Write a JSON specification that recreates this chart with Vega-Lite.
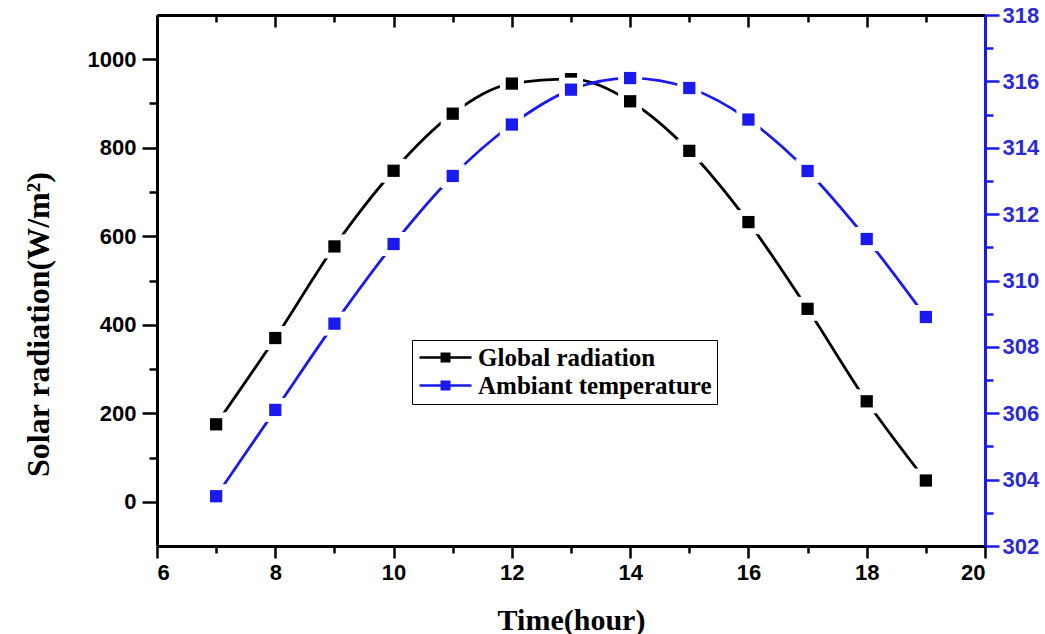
{
  "$schema": "https://vega.github.io/schema/vega-lite/v6.json",
  "width": 828,
  "height": 531,
  "autosize": {"type": "none"},
  "padding": {"left": 157, "top": 15, "right": 60, "bottom": 88},
  "background": "white",
  "config": {
    "view": {"stroke": null},
    "axis": {
      "grid": false,
      "labelFont": "Liberation Sans",
      "labelFontWeight": "bold",
      "labelFontSize": 22,
      "labelColor": "black",
      "titleFont": "Liberation Serif",
      "titleFontWeight": "bold",
      "titleColor": "black",
      "domainColor": "black",
      "tickColor": "black",
      "domainWidth": 3,
      "tickWidth": 2.5
    }
  },
  "data": {
    "values": [
      {"hour": 7, "series": "Global radiation", "value": 175},
      {"hour": 8, "series": "Global radiation", "value": 370},
      {"hour": 9, "series": "Global radiation", "value": 577},
      {"hour": 10, "series": "Global radiation", "value": 748},
      {"hour": 11, "series": "Global radiation", "value": 877},
      {"hour": 12, "series": "Global radiation", "value": 945},
      {"hour": 13, "series": "Global radiation", "value": 955},
      {"hour": 14, "series": "Global radiation", "value": 905},
      {"hour": 15, "series": "Global radiation", "value": 793},
      {"hour": 16, "series": "Global radiation", "value": 632},
      {"hour": 17, "series": "Global radiation", "value": 436},
      {"hour": 18, "series": "Global radiation", "value": 227},
      {"hour": 19, "series": "Global radiation", "value": 48},
      {"hour": 7, "series": "Ambiant temperature", "value": 303.5},
      {"hour": 8, "series": "Ambiant temperature", "value": 306.1},
      {"hour": 9, "series": "Ambiant temperature", "value": 308.7},
      {"hour": 10, "series": "Ambiant temperature", "value": 311.1},
      {"hour": 11, "series": "Ambiant temperature", "value": 313.15},
      {"hour": 12, "series": "Ambiant temperature", "value": 314.7},
      {"hour": 13, "series": "Ambiant temperature", "value": 315.75},
      {"hour": 14, "series": "Ambiant temperature", "value": 316.1},
      {"hour": 15, "series": "Ambiant temperature", "value": 315.8},
      {"hour": 16, "series": "Ambiant temperature", "value": 314.85},
      {"hour": 17, "series": "Ambiant temperature", "value": 313.3},
      {"hour": 18, "series": "Ambiant temperature", "value": 311.25},
      {"hour": 19, "series": "Ambiant temperature", "value": 308.9}
    ]
  },
  "layer": [
    {
      "transform": [{"filter": {"field": "series", "equal": "Global radiation"}}],
      "encoding": {
        "x": {
          "field": "hour",
          "type": "quantitative",
          "scale": {"domain": [6, 20], "nice": false, "zero": false},
          "axis": {
            "orient": "bottom",
            "values": [6, 7, 8, 9, 10, 11, 12, 13, 14, 15, 16, 17, 18, 19, 20],
            "labelExpr": "datum.value % 2 == 0 ? datum.label : ''",
            "format": "d",
            "tickSize": {"condition": {"test": "datum.value % 2 == 0", "value": 12}, "value": 7},
            "labelPadding": 4,
            "title": "Time(hour)",
            "titleFontSize": 30,
            "titlePadding": 22
          }
        },
        "y": {
          "field": "value",
          "type": "quantitative",
          "scale": {"domain": [-100, 1100], "nice": false, "zero": false},
          "axis": {
            "orient": "left",
            "values": [0, 100, 200, 300, 400, 500, 600, 700, 800, 900, 1000],
            "labelExpr": "datum.value % 200 == 0 ? datum.label : ''",
            "format": "d",
            "tickSize": {"condition": {"test": "datum.value % 200 == 0", "value": 15}, "value": 8},
            "labelPadding": 6,
            "title": "Solar radiation(W/m²)",
            "titleFontSize": 32,
            "titleY": 309,
            "titleX": -102
          }
        }
      },
      "layer": [
        {"mark": {"type": "line", "color": "black", "strokeWidth": 2.8, "interpolate": "monotone"}},
        {"mark": {"type": "point", "shape": "square", "filled": true, "fill": "white", "stroke": "white", "strokeWidth": 0, "size": 576, "opacity": 1}},
        {
          "mark": {"type": "point", "shape": "square", "filled": true, "size": 150, "opacity": 1},
          "encoding": {
            "color": {
              "field": "series",
              "type": "nominal",
              "scale": {"domain": ["Global radiation", "Ambiant temperature"], "range": ["black", "#1a1aee"]},
              "legend": {
                "title": null,
                "orient": "none",
                "legendX": 255,
                "legendY": 325,
                "symbolType": "M-2,-0.24L8.4,-0.24L8.4,0.24L-2,0.24Z M2.2,-1L4.2,-1L4.2,1L2.2,1Z",
                "symbolSize": 100,
                "symbolStrokeWidth": 0,
                "symbolOpacity": 1,
                "labelFont": "Liberation Serif",
                "labelFontWeight": "bold",
                "labelFontSize": 25,
                "labelColor": "black",
                "labelOffset": 36,
                "labelLimit": 400,
                "strokeColor": "black",
                "fillColor": "white",
                "padding": 5,
                "rowPadding": 2
              }
            }
          }
        }
      ]
    },
    {
      "transform": [{"filter": {"field": "series", "equal": "Ambiant temperature"}}],
      "encoding": {
        "x": {
          "field": "hour",
          "type": "quantitative",
          "axis": {
            "orient": "top",
            "values": [6, 7, 8, 9, 10, 11, 12, 13, 14, 15, 16, 17, 18, 19, 20],
            "labels": false,
            "tickSize": {"condition": {"test": "datum.value % 2 == 0", "value": -12}, "value": -7},
            "title": null
          }
        },
        "y": {
          "field": "value",
          "type": "quantitative",
          "scale": {"domain": [302, 318], "nice": false, "zero": false},
          "axis": {
            "orient": "right",
            "values": [302, 303, 304, 305, 306, 307, 308, 309, 310, 311, 312, 313, 314, 315, 316, 317, 318],
            "labelExpr": "datum.value % 2 == 0 ? datum.label : ''",
            "format": "d",
            "tickSize": {"condition": {"test": "datum.value % 2 == 0", "value": 14}, "value": 8},
            "labelPadding": 3,
            "domainColor": "#1a1aee",
            "tickColor": "#1a1aee",
            "labelColor": "#2b2bd6",
            "title": null
          }
        }
      },
      "layer": [
        {"mark": {"type": "line", "color": "#1a1aee", "strokeWidth": 2.8, "interpolate": "monotone"}},
        {"mark": {"type": "point", "shape": "square", "filled": true, "fill": "white", "stroke": "white", "strokeWidth": 0, "size": 576, "opacity": 1}},
        {
          "mark": {"type": "point", "shape": "square", "filled": true, "size": 150, "opacity": 1},
          "encoding": {
            "color": {
              "field": "series",
              "type": "nominal",
              "scale": {"domain": ["Global radiation", "Ambiant temperature"], "range": ["black", "#1a1aee"]},
              "legend": {
                "title": null,
                "orient": "none",
                "legendX": 255,
                "legendY": 325,
                "symbolType": "M-2,-0.24L8.4,-0.24L8.4,0.24L-2,0.24Z M2.2,-1L4.2,-1L4.2,1L2.2,1Z",
                "symbolSize": 100,
                "symbolStrokeWidth": 0,
                "symbolOpacity": 1,
                "labelFont": "Liberation Serif",
                "labelFontWeight": "bold",
                "labelFontSize": 25,
                "labelColor": "black",
                "labelOffset": 36,
                "labelLimit": 400,
                "strokeColor": "black",
                "fillColor": "white",
                "padding": 5,
                "rowPadding": 2
              }
            }
          }
        }
      ]
    }
  ],
  "resolve": {"scale": {"y": "independent"}, "axis": {"x": "independent"}}
}
